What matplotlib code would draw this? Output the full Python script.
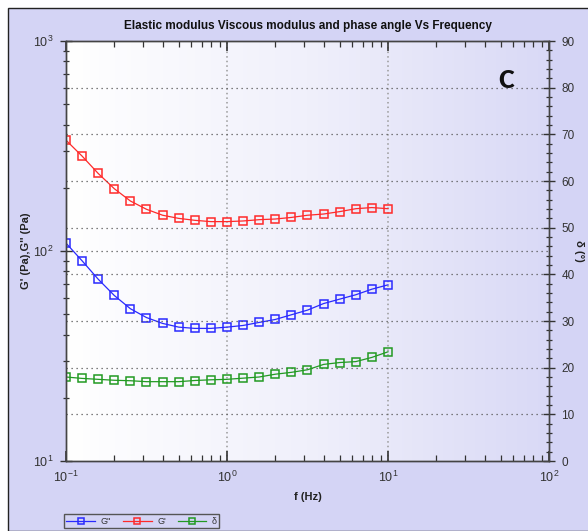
import numpy as np
import matplotlib
matplotlib.use("Agg")
import matplotlib.pyplot as plt
from matplotlib.ticker import LogLocator, MultipleLocator, NullFormatter
from matplotlib.patches import Rectangle
from matplotlib.lines import Line2D
from matplotlib.colors import LinearSegmentedColormap

plt.rcParams['font.family'] = ['Liberation Sans', 'DejaVu Sans']
plt.rcParams['mathtext.fontset'] = 'custom'
plt.rcParams['mathtext.rm'] = 'Liberation Sans'
plt.rcParams['mathtext.it'] = 'Liberation Sans'
plt.rcParams['mathtext.bf'] = 'Liberation Sans:bold'

# Frequency sweep, 10 points per decade
freq = [0.1, 0.1259, 0.1585, 0.1995, 0.2512, 0.3162, 0.3981, 0.5012, 0.6310, 0.7943,
        1.0, 1.259, 1.585, 1.995, 2.512, 3.162, 3.981, 5.012, 6.310, 7.943, 10.0]

# Storage modulus G' (Pa)
g_storage = [337, 283, 234, 198, 173, 158, 148, 143, 140, 138,
             138, 139, 141, 142, 144.5, 148, 150, 154, 159, 161, 159]

# Loss modulus G'' (Pa)
g_loss = [109, 89.8, 73.4, 61.4, 53.1, 48.2, 45.2, 43.4, 42.8, 42.8,
          43.4, 44.2, 45.7, 47.2, 49.7, 52.3, 56.2, 59.0, 61.9, 65.8, 69.0]

# Phase angle delta (degrees)
delta = [18.0, 17.7, 17.5, 17.3, 17.2, 17.0, 17.0, 17.0, 17.25, 17.4,
         17.5, 17.75, 18.0, 18.6, 19.0, 19.55, 20.7, 21.1, 21.3, 22.2, 23.4]

BG = '#d4d4f5'
TXT = '#333333'
BLUE = '#2a2aff'
RED = '#ff2a2a'
GREEN = '#229a22'

fig = plt.figure(figsize=(5.88, 5.31), dpi=100)
fig.patch.set_facecolor('white')

# panel frame
fig.patches.append(Rectangle((8/588, 0), 1.0, 1 - 8/531, transform=fig.transFigure,
                             facecolor=BG, edgecolor='#222222', linewidth=1.0, zorder=-10))

pos = [66/588, 1 - 461/531, (549 - 66)/588, (461 - 41)/531]

# horizontal gradient behind the plot area
bg = fig.add_axes(pos, zorder=0)
grad = np.linspace(0, 1, 256).reshape(1, -1)
cmap = LinearSegmentedColormap.from_list('bgfade', ['#ffffff', '#f0f0fb', '#d9d9f6'])
bg.imshow(grad, aspect='auto', cmap=cmap, extent=[0, 1, 0, 1])
bg.set_axis_off()

ax = fig.add_axes(pos, zorder=1)
ax.patch.set_visible(False)
ax.set_xscale('log')
ax.set_yscale('log')
ax.set_xlim(0.1, 100)
ax.set_ylim(10, 1000)

ax2 = ax.twinx()
ax2.set_ylim(0, 90)

# grid
for yv in range(10, 90, 10):
    ax2.axhline(yv, color='#555555', lw=0.9, ls=(0, (1, 3)), zorder=0.5)
ax.axhline(100, color='#555555', lw=0.9, ls=(0, (1, 3)), zorder=0.5)
for xv in [1, 10]:
    ax.axvline(xv, color='#999999', lw=1.1, ls=(0, (1, 2)), zorder=0.5)

mk = dict(marker='s', markersize=5.5, markerfacecolor='none', markeredgewidth=1.1, lw=0.9)
ax.plot(freq, g_loss, color=BLUE, **mk, label="G''")
ax.plot(freq, g_storage, color=RED, **mk, label="G'")
ax2.plot(freq, delta, color=GREEN, **mk, label='δ')

for a in (ax, ax2):
    for s in a.spines.values():
        s.set_color('#444444')
        s.set_linewidth(1.0)

ax.xaxis.set_major_locator(LogLocator(base=10, numticks=10))
ax.xaxis.set_minor_locator(LogLocator(base=10, subs=np.arange(2, 10), numticks=10))
ax.xaxis.set_minor_formatter(NullFormatter())
ax.yaxis.set_major_locator(LogLocator(base=10, numticks=10))
ax.yaxis.set_minor_locator(LogLocator(base=10, subs=np.arange(2, 10), numticks=10))
ax.yaxis.set_minor_formatter(NullFormatter())

ax.tick_params(axis='x', which='both', direction='in', top=True, colors='#333333',
               labelcolor=TXT, labelsize=9, pad=6)
ax.tick_params(axis='x', which='major', length=7, width=1.2)
ax.tick_params(axis='x', which='minor', length=4, width=0.9)
ax.tick_params(axis='y', which='both', direction='inout', colors='#333333',
               labelcolor=TXT, labelsize=9, pad=5)
ax.tick_params(axis='y', which='major', length=8, width=1.0)
ax.tick_params(axis='y', which='minor', length=5, width=0.9)

ax2.yaxis.set_major_locator(MultipleLocator(10))
ax2.yaxis.set_minor_locator(MultipleLocator(2))
ax2.tick_params(axis='y', which='both', direction='inout', colors='#333333',
                labelcolor=TXT, labelsize=8.5, pad=5)
ax2.tick_params(axis='y', which='major', length=8, width=1.0)
ax2.tick_params(axis='y', which='minor', length=5, width=0.9)

ax.set_xlabel('f (Hz)', fontsize=8, fontweight='bold', color='#222222')
ax.xaxis.set_label_coords(0.5, -0.075)
ax.set_ylabel("G' (Pa),G'' (Pa)", fontsize=8, fontweight='bold', color='#222222')
ax.yaxis.set_label_coords(-0.073, 0.5)
ax2.set_ylabel('δ (°)', fontsize=8, fontweight='bold', color='#222222', rotation=-90,
               va='center')
ax2.yaxis.set_label_coords(1.062, 0.5)

ax.set_title('Elastic modulus Viscous modulus and phase angle Vs Frequency',
             fontsize=8.5, fontweight='bold', color='#111111', pad=9)

ax.text(0.911, 0.905, 'C', transform=ax.transAxes, fontsize=17, fontweight='heavy',
        family=['Lato', 'DejaVu Sans'], ha='center', va='center', color='#111111')

handles = [Line2D([], [], color=c, **mk) for c in (BLUE, RED, GREEN)]
leg = fig.legend(handles, ["G''", "G'", 'δ'], loc='lower left',
                 bbox_to_anchor=(64/588, 1 - 528/531), ncol=3, fontsize=6.5,
                 frameon=True, fancybox=False, edgecolor='#555555', facecolor=BG,
                 framealpha=1, handlelength=3.2, handletextpad=0.6, columnspacing=1.3,
                 borderpad=0.25, borderaxespad=0)
for t in leg.get_texts():
    t.set_color(TXT)
for h in leg.legend_handles:
    h.set_markersize(5)

fig.savefig('out.png', dpi=100, facecolor=fig.get_facecolor())
